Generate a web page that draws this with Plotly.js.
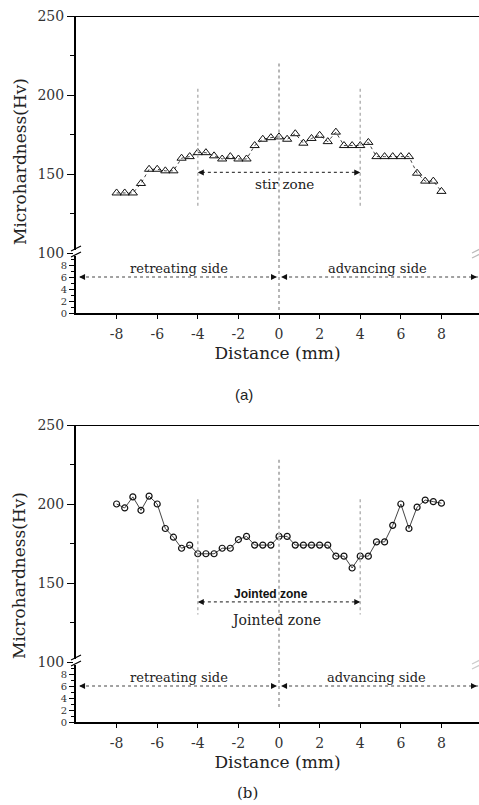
<!DOCTYPE html>
<html>
<head>
<meta charset="utf-8">
<script src="https://cdn.plot.ly/plotly-3.0.1.min.js"></script>
<style>html,body{margin:0;padding:0;background:#fff;overflow:hidden}#chart{width:479px;height:805px}</style>
</head>
<body>
<div id="chart"></div>
<script>
// Distance (mm) positions of the hardness indentations
const distance = [-8,-7.6,-7.2,-6.8,-6.4,-6,-5.6,-5.2,-4.8,-4.4,-4,-3.6,-3.2,-2.8,-2.4,-2,-1.6,-1.2,-0.8,-0.4,0,0.4,0.8,1.2,1.6,2,2.4,2.8,3.2,3.6,4,4.4,4.8,5.2,5.6,6,6.4,6.8,7.2,7.6,8];
// (a) stir zone profile
const hardnessA = [138,138,138,144,153,153,152,152,160,161,163.5,163.5,161.5,159.5,161,159.5,159.5,168,172,173,173.5,172,175.5,169.5,172.5,174.5,170.5,176.5,168,168,168,170,161,161,161,161,161,150.5,145.5,145.5,139];
// (b) jointed zone profile
const hardnessB = [200,197.5,204.5,196,205,200,184.5,179,172,174,168.5,168.5,168.5,172,172,177.5,179.5,174,174,174,179.5,179.5,174,174,174,174,174,167,167,159.5,167,167,176,176,186.5,200,184.5,198,202.5,201.5,200.5];
const xTicks = [-8,-6,-4,-2,0,2,4,6,8];
const xTickText = ['-8','-6','-4','-2','0','2','4','6','8'];
const upperTicks = [100,150,200,250];
const lowerTicks = [0,2,4,6,8];

const SERIF = '"DejaVu Serif", "Liberation Serif", serif';
const H = 805, L = 76, W = 403;
const py = p => 1 - p / H;          // pixel row -> paper y
const px = p => (p - L) / W;        // pixel column -> paper x

function xa(anchor) {
  return {
    anchor: anchor, domain: [0, 1], range: [-10, 9.85],
    tickvals: xTicks, ticktext: xTickText, ticks: 'outside', ticklen: 4, tickwidth: 1, tickcolor: '#000',
    showline: true, linewidth: 2, linecolor: '#000', showgrid: false, zeroline: false,
    tickfont: {family: SERIF, size: 14, color: '#333'}, ticklabelstandoff: 3,
    title: {text: 'Distance (mm)', font: {family: SERIF, size: 17, color: '#222'}, standoff: 6}
  };
}
function yUpper(anchor, dom) {
  return {
    anchor: anchor, domain: dom, range: [100, 250], tickvals: upperTicks,
    ticks: 'outside', ticklen: 7, tickwidth: 1, tickcolor: '#000',
    minor: {dtick: 25, ticks: 'outside', ticklen: 4, tickcolor: '#000'},
    showline: true, linewidth: 2, linecolor: '#000', showgrid: false, zeroline: false,
    tickfont: {family: SERIF, size: 14, color: '#333'}
  };
}
function yLower(anchor, dom) {
  return {
    anchor: anchor, domain: dom, range: [0, 10], tickvals: lowerTicks,
    ticks: 'outside', ticklen: 5, tickwidth: 1, tickcolor: '#000',
    minor: {dtick: 1, ticks: 'outside', ticklen: 3, tickcolor: '#000'},
    showline: true, linewidth: 2, linecolor: '#000', showgrid: false, zeroline: false,
    tickfont: {family: SERIF, size: 10, color: '#333'}
  };
}

const traces = [
  {x: distance, y: hardnessA, xaxis: 'x', yaxis: 'y2', mode: 'lines+markers',
   line: {color: '#444', width: 1, dash: 'dot'},
   marker: {symbol: 'triangle-up-open', size: 8, color: '#111', line: {width: 1, color: '#111'}}},
  {x: distance, y: hardnessB, xaxis: 'x2', yaxis: 'y4', mode: 'lines+markers',
   line: {color: '#444', width: 1},
   marker: {symbol: 'circle-open', size: 6, color: '#111', line: {width: 1.2, color: '#111'}}}
];

const gridGray = '#b5b5b5';
function vdot(xref, x, y0, y1, yref, w) {
  return {type: 'line', xref: xref, x0: x, x1: x, yref: yref, y0: y0, y1: y1,
          line: {color: gridGray, width: w, dash: 'dot'}};
}
function hdot(xref, x0, x1, yref, y) {
  return {type: 'line', xref: xref, x0: x0, x1: x1, yref: yref, y0: y, y1: y,
          line: {color: '#444', width: 1.2, dash: 'dot'}};
}
function head(xref, yref, x, y, dir) {
  return {xref: xref, yref: yref, x: x, y: y, ax: dir * 7, ay: 0, text: '', showarrow: true,
          arrowhead: 2, arrowsize: 1, arrowwidth: 1.2, arrowcolor: '#111'};
}
function pline(x0, y0, x1, y1, color) {
  return {type: 'line', xref: 'paper', yref: 'paper', x0: px(x0), x1: px(x1), y0: py(y0), y1: py(y1),
          line: {color: color, width: 1.2}};
}
function gap(y0, y1) {
  return {type: 'rect', xref: 'paper', yref: 'paper', x0: px(73), x1: px(79), y0: py(y1), y1: py(y0),
          line: {width: 0}, fillcolor: '#fff'};
}

const shapes = [
  // panel (a)
  {type: 'line', xref: 'paper', x0: 0, x1: 1, yref: 'y2', y0: 250, y1: 250, line: {color: '#000', width: 2}},
  vdot('x', -4, 204, 128, 'y2', 1.5),
  vdot('x', 4, 204, 128, 'y2', 1.5),
  vdot('x', 0, 220, 100, 'y2', 2),
  vdot('x', 0, 10, 0.5, 'y', 2),
  hdot('x', -3.8, 3.8, 'y2', 151),
  hdot('x', -9.8, -0.2, 'y', 6),
  hdot('x', 0.2, 9.85, 'y', 6),
  // panel (b)
  {type: 'line', xref: 'paper', x0: 0, x1: 1, yref: 'y4', y0: 250, y1: 250, line: {color: '#000', width: 2}},
  vdot('x2', -4, 203, 130, 'y4', 1.5),
  vdot('x2', 4, 203, 130, 'y4', 1.5),
  vdot('x2', 0, 228, 100, 'y4', 2),
  vdot('x2', 0, 10, 2.3, 'y3', 2),
  hdot('x2', -3.8, 3.8, 'y4', 138),
  hdot('x2', -9.8, -0.2, 'y3', 6),
  hdot('x2', 0.2, 9.85, 'y3', 6),
  // broken-axis marks
  gap(250, 256),
  pline(71, 251, 81, 246, '#000'),
  pline(71, 257, 81, 252, '#000'),
  pline(472, 253, 480, 249, '#bbb'),
  pline(472, 258, 480, 254, '#bbb'),
  gap(659, 665),
  pline(71, 660, 81, 655, '#000'),
  pline(71, 666, 81, 661, '#000'),
  pline(472, 664, 480, 660, '#ccc'),
  pline(472, 669, 480, 665, '#ccc')
];

const tf = (s) => ({family: SERIF, size: s, color: '#222'});
const SANS = '"Liberation Sans", Arial, sans-serif';
const annotations = [
  // panel (a)
  {xref: 'x', yref: 'y2', x: 0.25, y: 143.7, text: 'stir zone', showarrow: false, font: tf(13.5)},
  {xref: 'x', yref: 'y', x: -4.93, y: 7.4, text: 'retreating side', showarrow: false, font: tf(13)},
  {xref: 'x', yref: 'y', x: 4.83, y: 7.4, text: 'advancing side', showarrow: false, font: tf(13)},
  head('x', 'y2', -4, 151, 1), head('x', 'y2', 4, 151, -1),
  head('x', 'y', -9.85, 6, 1), head('x', 'y', -0.1, 6, -1),
  head('x', 'y', 0.1, 6, 1), head('x', 'y', 9.75, 6, -1),
  {xref: 'paper', yref: 'paper', x: px(20), y: py(162), text: 'Microhardness(Hv)', textangle: -90,
   showarrow: false, xanchor: 'center', yanchor: 'middle', font: tf(17)},
  {xref: 'paper', yref: 'paper', x: px(244), y: py(395), text: '(a)', showarrow: false,
   xanchor: 'center', yanchor: 'middle', font: {family: SANS, size: 15, color: '#222'}},
  // panel (b)
  {xref: 'x2', yref: 'y4', x: -0.4, y: 143, text: '<b>Jointed zone</b>', showarrow: false,
   font: {family: SANS, size: 12, color: '#111'}},
  {xref: 'x2', yref: 'y4', x: -0.15, y: 126.6, text: 'Jointed zone', showarrow: false, font: tf(14)},
  {xref: 'x2', yref: 'y3', x: -4.95, y: 7.4, text: 'retreating side', showarrow: false, font: tf(13)},
  {xref: 'x2', yref: 'y3', x: 4.8, y: 7.4, text: 'advancing side', showarrow: false, font: tf(13)},
  head('x2', 'y4', -4, 138, 1), head('x2', 'y4', 4, 138, -1),
  head('x2', 'y3', -9.85, 6, 1), head('x2', 'y3', -0.1, 6, -1),
  head('x2', 'y3', 0.1, 6, 1), head('x2', 'y3', 9.75, 6, -1),
  {xref: 'paper', yref: 'paper', x: px(19), y: py(576), text: 'Microhardness(Hv)', textangle: -90,
   showarrow: false, xanchor: 'center', yanchor: 'middle', font: tf(17)},
  {xref: 'paper', yref: 'paper', x: px(247), y: py(793), text: '(b)', showarrow: false,
   xanchor: 'center', yanchor: 'middle', font: tf(15)}
];

const layout = {
  width: 479, height: 805,
  margin: {l: L, r: 0, t: 0, b: 0},
  paper_bgcolor: '#fff', plot_bgcolor: 'rgba(0,0,0,0)',
  showlegend: false,
  xaxis: xa('y'),
  yaxis: yLower('x', [py(313), py(253)]),
  yaxis2: yUpper('x', [py(253), py(16)]),
  xaxis2: xa('y3'),
  yaxis3: yLower('x2', [py(722), py(662)]),
  yaxis4: yUpper('x2', [py(662), py(425)]),
  shapes: shapes,
  annotations: annotations
};

Plotly.newPlot('chart', traces, layout, {displayModeBar: false, staticPlot: true});
</script>
</body>
</html>
